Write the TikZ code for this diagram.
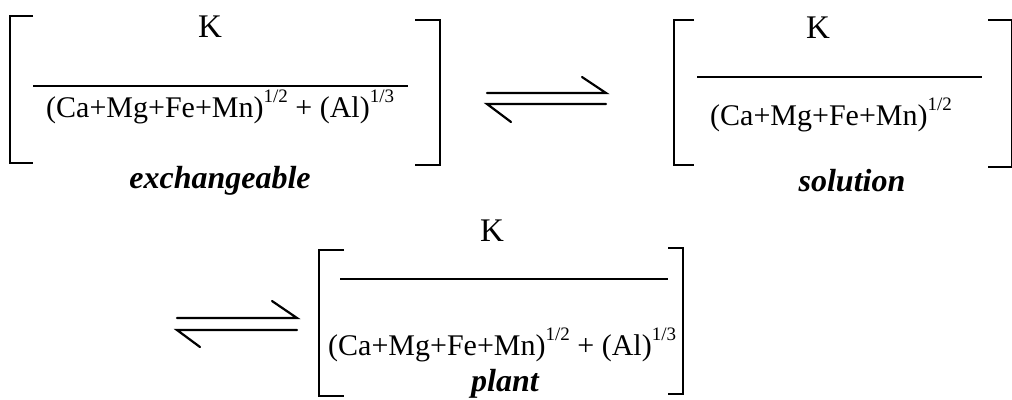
\documentclass[tikz,border=0pt]{standalone}
\usepackage{fontspec}
\setmainfont{Liberation Serif}
\usetikzlibrary{positioning,calc}
\newcommand{\powr}[1]{\raisebox{0.5em}{\fontsize{19}{19}\selectfont #1}}
\tikzset{
  term/.style ={inner sep=0pt,anchor=base,font=\fontsize{30}{36}\selectfont},
  kpart/.style={term,font=\fontsize{33}{36}\selectfont},
  den/.style  ={term,anchor=base west},
  tag/.style  ={term,font=\fontsize{32}{36}\selectfont\bfseries\itshape},
  brak/.style ={line width=1.8pt},
  bar/.style  ={line width=1.6pt},
  harp/.style ={line width=2.2pt,line cap=round},
}

\begin{document}
\begin{tikzpicture}[x=1pt,y=-1pt]
\useasboundingbox (0,0) rectangle (1012,399);

% exchangeable
\draw[brak] (33,16) -- (10,16) -- (10,163) -- (33,163);
\draw[brak] (415,20) -- (440,20) -- (440,165) -- (415,165);
\node[kpart] (kA) at (210,37) {K};
\draw[bar] (33,86) -- (408,86);
\node[den] (denA) at (46,117) {(Ca+Mg+Fe+Mn)\powr{1/2} + (Al)\powr{1/3}};
\node[tag] (tagA) at (220,188) {exchangeable};

% first equilibrium
\coordinate (eqA-tl) at (487,93);  \coordinate (eqA-tr) at (606,93);
\coordinate (eqA-bl) at (487,104); \coordinate (eqA-br) at (606,104);
\draw[harp] (eqA-tl) -- (eqA-tr) -- +(-24,-16);
\draw[harp] (eqA-br) -- (eqA-bl) -- +(24,18);

% solution
\draw[brak] (694,20) -- (674,20) -- (674,165) -- (694,165);
\draw[brak] (988,20) -- (1012,20) -- (1012,167) -- (988,167);
\node[kpart] (kB) at (818,38) {K};
\draw[bar] (697,77) -- (982,77);
\node[den] (denB) at (710,125) {(Ca+Mg+Fe+Mn)\powr{1/2}};
\node[tag] (tagB) at (852,191) {solution};

% second equilibrium
\coordinate (eqB-tl) at (177,318); \coordinate (eqB-tr) at (297,318);
\coordinate (eqB-bl) at (177,330); \coordinate (eqB-br) at (297,330);
\draw[harp] (eqB-tl) -- (eqB-tr) -- +(-25,-17);
\draw[harp] (eqB-br) -- (eqB-bl) -- +(23,17);

% plant
\draw[brak] (344,250) -- (319,250) -- (319,396) -- (344,396);
\draw[brak] (668,248) -- (683,248) -- (683,394) -- (668,394);
\node[kpart] (kC) at (492,241) {K};
\draw[bar] (340,279) -- (668,279);
\node[den] (denC) at (328,355) {(Ca+Mg+Fe+Mn)\powr{1/2} + (Al)\powr{1/3}};
\node[tag] (tagC) at (505,391) {plant};

\end{tikzpicture}
\end{document}
